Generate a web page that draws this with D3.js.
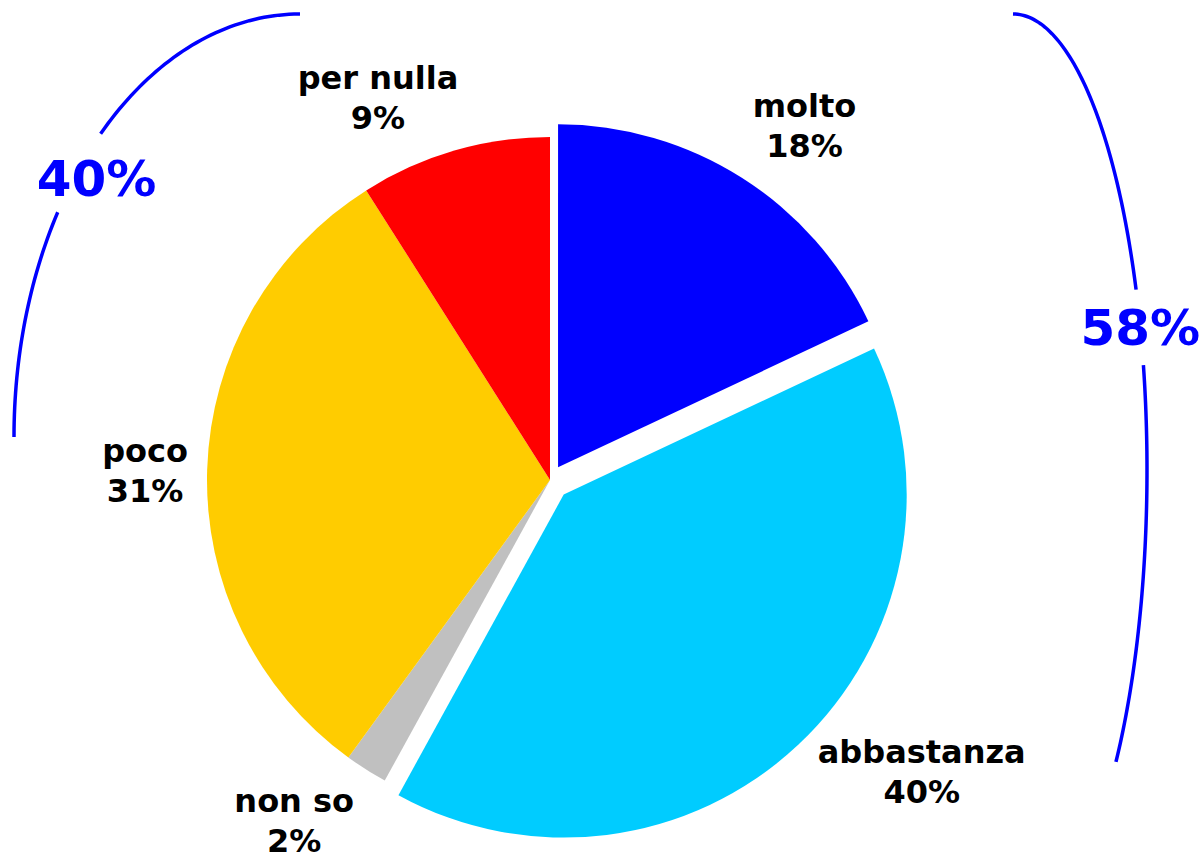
<!DOCTYPE html>
<html lang="it">
<head>
    <meta charset="utf-8">
    <title>Pie</title>
    <script type="text/javascript" src="https://d3js.org/d3.v7.min.js"></script>
    <style>
        body { margin: 0; background: white; }
        text { font-family: "DejaVu Sans", Verdana, sans-serif; font-weight: bold; }
    </style>
</head>
<body>
    <div id="chart"></div>
    <script type="text/javascript">
        // data
        const categories = ["molto", "abbastanza", "non so", "poco", "per nulla"];
        const values = [18, 40, 2, 31, 9];
        const colors = ["#0000ff", "#00ccff", "#c0c0c0", "#ffcc00", "#ff0000"];
        // slices summed by each bracket
        const groups = [[0, 1], [3, 4]];

        const width = 1204;
        const height = 862;
        const center = {x: 550, y: 480};
        const radius = 343;

        // how far molto / abbastanza are pulled out
        const explode = [15, 20, 0, 0, 0];
        // label anchor as [angle in degrees, distance from centre]
        const labelPos = [[35.8, 435], [128.2, 473], [216.8, 427], [271.1, 405], [335.7, 418]];
        // bracket ellipses (angle 0 = right, positive = downwards)
        const bracketLayout = [
            {cx: 1013, cy: 470, rx: 134, ry: 456, arcs: [[-90, -23.3], [-13.3, 39.8]], dx: 0, dy: 0},
            {cx: 300, cy: 437, rx: 286, ry: 423, arcs: [[-180, -147.9], [-134.2, -90]], dx: 19, dy: 7}
        ];

        const rad = d => d * Math.PI / 180;

        const svg = d3.select("#chart")
            .append("svg")
            .attr("width", width)
            .attr("height", height);

        const pie = d3.pie().sort(null).value(d => d);
        const arcs = pie(values);
        const arc = d3.arc().innerRadius(0).outerRadius(radius);

        const g = svg.append("g")
            .attr("transform", `translate(${center.x}, ${center.y})`);

        g.selectAll("path.slice")
            .data(arcs)
            .enter()
            .append("path")
                .attr("class", "slice")
                .attr("d", arc)
                .attr("fill", (d, i) => colors[i])
                .attr("transform", (d, i) => {
                    const mid = (d.startAngle + d.endAngle) / 2;
                    return `translate(${Math.sin(mid) * explode[i]}, ${-Math.cos(mid) * explode[i]})`;
                });

        // slice labels
        const labels = g.selectAll("text.label")
            .data(arcs)
            .enter()
            .append("text")
                .attr("class", "label")
                .attr("text-anchor", "middle")
                .attr("font-size", 32)
                .attr("fill", "black")
                .attr("transform", (d, i) => {
                    const a = rad(labelPos[i][0]), r = labelPos[i][1];
                    return `translate(${Math.sin(a) * r}, ${-Math.cos(a) * r})`;
                });
        labels.append("tspan").attr("x", 0).attr("y", -10).text((d, i) => categories[i]);
        labels.append("tspan").attr("x", 0).attr("y", 30).text((d, i) => values[i] + "%");

        // brackets with totals
        const curve = d3.line();
        bracketLayout.forEach((b, k) => {
            const total = d3.sum(groups[k], i => values[i]);
            const pt = t => [b.cx + b.rx * Math.cos(rad(t)), b.cy + b.ry * Math.sin(rad(t))];
            b.arcs.forEach(s => {
                const steps = d3.range(s[0], s[1], 1).concat([s[1]]);
                svg.append("path")
                    .attr("d", curve(steps.map(pt)))
                    .attr("fill", "none")
                    .attr("stroke", "#0000ff")
                    .attr("stroke-width", 3.5);
            });
            const p = pt((b.arcs[0][1] + b.arcs[1][0]) / 2);
            svg.append("text")
                .attr("x", p[0] + b.dx)
                .attr("y", p[1] + b.dy)
                .attr("dy", "0.36em")
                .attr("text-anchor", "middle")
                .attr("font-size", 50)
                .attr("fill", "#0000ff")
                .text(total + "%");
        });
    </script>
</body>
</html>
